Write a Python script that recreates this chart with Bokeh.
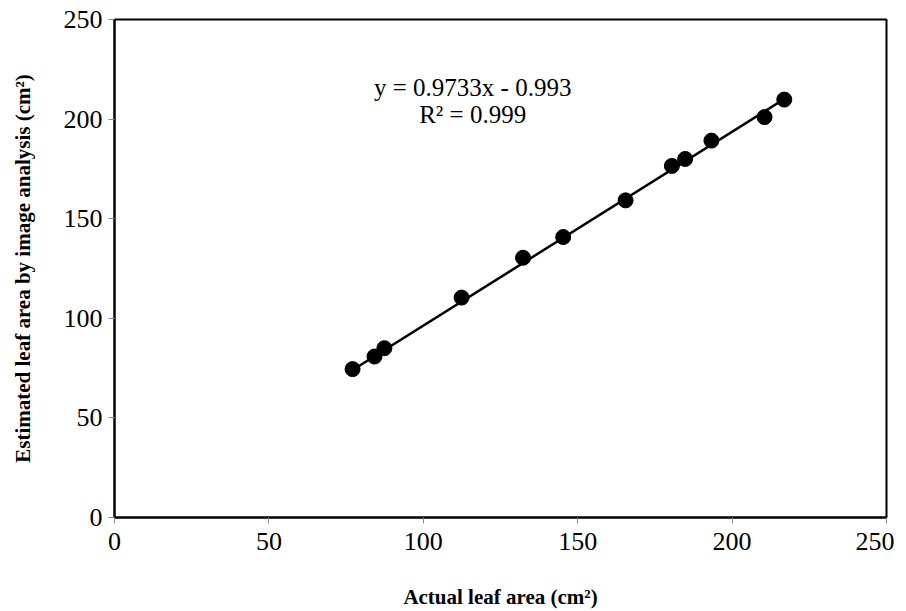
from bokeh.plotting import figure
from bokeh.models import Range1d, ColumnDataSource, FixedTicker
from bokeh.core.properties import value
from bokeh.embed import file_html
from bokeh.resources import INLINE

actual = [77.1, 84.2, 87.4, 112.4, 132.3, 145.3, 165.5, 180.5, 184.8, 193.3, 210.5, 216.9]
estimated = [74.5, 80.8, 85.0, 110.4, 130.4, 140.8, 159.2, 176.5, 180.0, 189.2, 201.0, 209.8]
slope = 0.9733
intercept = -0.993
eq_text = ["y = 0.9733x - 0.993", "R² = 0.999"]
eq_x = [116, 116]
eq_y = [216, 202.5]
ticks = [0, 50, 100, 150, 200, 250]
x_title = "Actual leaf area (cm²)"
y_title = "Estimated leaf area by image analysis (cm²)"

FONT = "Liberation Serif"

p = figure(width=894, height=611, output_backend="svg", toolbar_location=None,
           x_range=Range1d(0, 250), y_range=Range1d(0, 250),
           min_border_left=114, min_border_right=8, min_border_top=19, min_border_bottom=92)
p.grid.visible = False
p.outline_line_color = "black"
p.outline_line_width = 2
p.background_fill_color = "white"
p.border_fill_color = "white"

for ax in (p.xaxis[0], p.yaxis[0]):
    ax.ticker = FixedTicker(ticks=ticks)
    ax.minor_tick_line_color = None
    ax.major_tick_out = 6
    ax.major_tick_in = 0
    ax.major_tick_line_color = "#888888"
    ax.axis_line_color = "black"
    ax.axis_line_width = 2
    ax.major_label_text_font = FONT
    ax.major_label_text_font_size = "26px"
    ax.major_label_text_color = "black"
    ax.axis_label_text_font = FONT
    ax.axis_label_text_font_size = "21px"
    ax.axis_label_text_font_style = "bold"
    ax.axis_label_text_color = "black"

p.xaxis.axis_label = x_title
p.yaxis.axis_label = y_title
p.xaxis.major_label_standoff = 9
p.xaxis.axis_label_standoff = 32
p.yaxis.major_label_standoff = 6
p.yaxis.axis_label_standoff = 26

xmin, xmax = min(actual), max(actual)
p.line([xmin, xmax], [slope * xmin + intercept, slope * xmax + intercept],
       line_color="black", line_width=2.5)
p.scatter(actual, estimated, size=15, fill_color="black", line_color="black")

src = ColumnDataSource(dict(x=eq_x, y=eq_y, t=eq_text))
p.text(x="x", y="y", text="t", source=src, text_font=value(FONT),
       text_font_size="25px", text_align="center", text_baseline="middle",
       text_color="black")

open("out.html", "w").write(file_html(p, INLINE))
